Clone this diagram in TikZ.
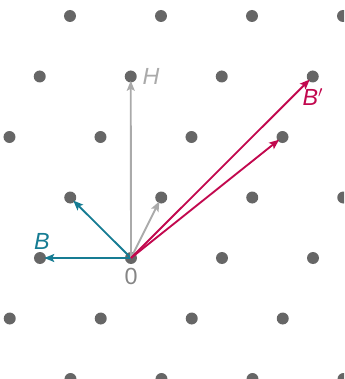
\documentclass[tikz,border=0pt]{standalone}
\usepackage{fontspec}
\setmainfont{Liberation Sans}
\usetikzlibrary{arrows.meta}
\definecolor{tl}{HTML}{167C93}
\definecolor{cr}{HTML}{C2084E}
\definecolor{dk}{HTML}{666666}
\definecolor{lg}{HTML}{AAAAAA}
\tikzset{
  dot/.style={circle,fill=dk,inner sep=0pt,minimum size=9pt},
  ar/.style={-{Stealth[length=7.5pt,width=6pt,inset=1.5pt]},line width=1.4pt,shorten >=-1.5pt},
  lbl/.style={font=\fontsize{17.5}{20}\selectfont\itshape},
}

\begin{document}
\begin{tikzpicture}[x=0.75pt,y=0.75pt]
  \useasboundingbox (-131,-121) rectangle (213,258);
  \clip (-131,-121) rectangle (213,258);
  % lattice points
  \foreach \j in {-2,...,4}
    \foreach \i in {-4,...,4}
      \node[dot] (p\i_\j) at ({91*\i+30.25*\j},{60.5*\j}) {};
  % basis vectors
  \draw[ar,draw=tl] (p0_0.center) -- (p-1_0);
  \draw[ar,draw=tl] (p0_0.center) -- (p-1_1);
  \draw[ar,draw=lg] (p0_0.center) -- (p-1_3);
  \draw[ar,draw=lg] (p0_0.center) -- (p0_1);
  \draw[ar,draw=cr] (p0_0.center) -- (p1_3);
  \draw[ar,draw=cr] (p0_0.center) -- (p1_2);
  % labels
  \node[font=\fontsize{17.5}{20}\selectfont,text=dk!80!white] (o) at (0,-18) {0};
  \node[lbl,text=tl] (b) at (-89,17) {B};
  \node[lbl,text=lg] (h) at (20,182) {H};
  \node[lbl,text=cr] (bp) at (182,161) {B$'$};
\end{tikzpicture}
\end{document}
